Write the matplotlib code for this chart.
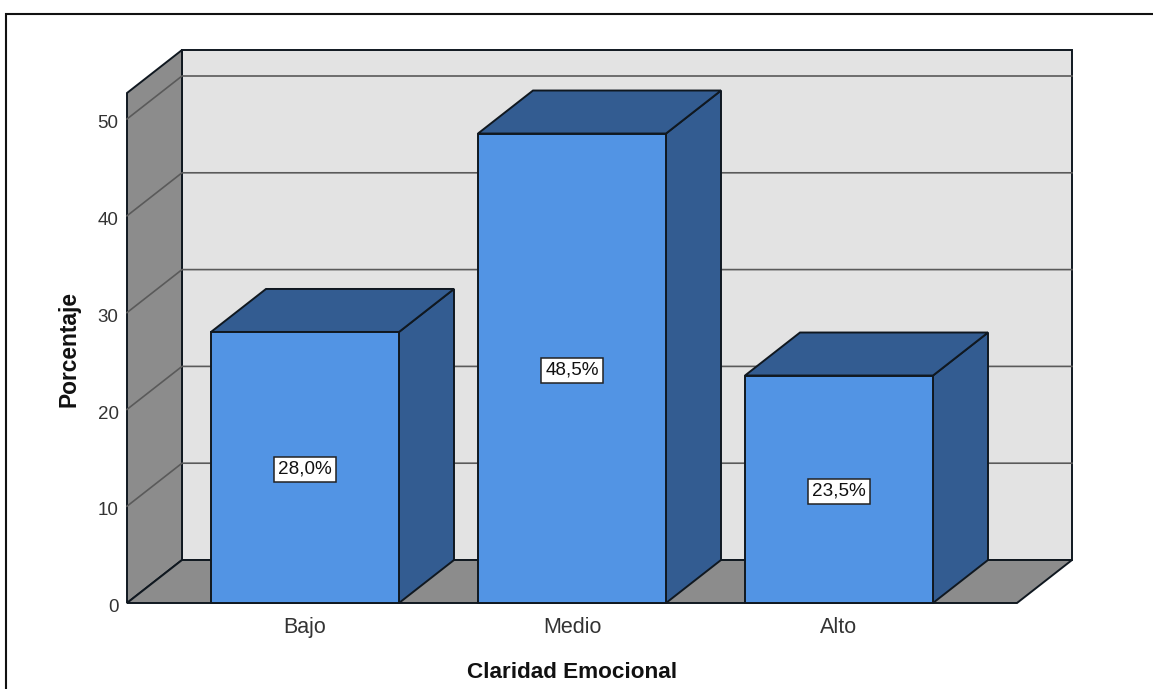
import matplotlib
matplotlib.use("Agg")
import matplotlib.pyplot as plt
from matplotlib.lines import Line2D
from matplotlib.patches import Polygon
from matplotlib.transforms import ScaledTranslation

categories = ["Bajo", "Medio", "Alto"]
percentages = [28.0, 48.5, 23.5]
value_labels = ["28,0%", "48,5%", "23,5%"]
y_ticks = [0, 10, 20, 30, 40, 50]

W, H = 1153, 689
FRONT = "#5294E4"
SIDE = "#335C91"
WALL = "#8C8C8C"
BACK = "#E3E3E3"
EDGE = "#101820"
GRID = "#5A5A5A"

plt.rcParams["font.family"] = ["Liberation Sans", "DejaVu Sans"]
fig = plt.figure(figsize=(W / 100, H / 100), dpi=100)

# Axes span from the front-left floor corner to the back-right top corner
left, right, bottom, top = 127, 1072, 603, 51
ax = fig.add_axes([left / W, 1 - bottom / H, (right - left) / W, (bottom - top) / H])

px_x = 267.0          # pixels per category
px_y = 9.68           # pixels per percentage point
x0 = -(305 - left) / px_x
ax.set_xlim(x0, x0 + (right - left) / px_x)
ax.set_ylim(0, (bottom - top) / px_y)
DX = 55 / px_x        # depth offset of the oblique projection
DY = 43 / px_y
BW = 188 / px_x       # bar width
ymax_front = (bottom - 93) / px_y
xl, xr = x0, x0 + (1017 - left) / px_x


def face(pts, fc, ec=EDGE, lw=1.4, z=1):
    ax.add_patch(Polygon(pts, closed=True, facecolor=fc, edgecolor=ec, linewidth=lw,
                         joinstyle="miter", clip_on=False, zorder=z))


# Back wall, side wall and floor
face([(xl + DX, DY), (xr + DX, DY), (xr + DX, DY + ymax_front), (xl + DX, DY + ymax_front)], BACK, z=1)
face([(xl, 0), (xl + DX, DY), (xl + DX, DY + ymax_front), (xl, ymax_front)], WALL, z=1)
face([(xl, 0), (xr, 0), (xr + DX, DY), (xl + DX, DY)], WALL, z=1)

# Gridlines wrap from the side wall onto the back wall
for t in y_ticks[1:]:
    ax.plot([xl, xl + DX, xr + DX], [t, t + DY, t + DY], color=GRID, lw=1.2,
            solid_joinstyle="miter", clip_on=False, zorder=2)

# Three-dimensional bars with a value box on each front face
for i, v in enumerate(percentages):
    a, b = i - BW / 2, i + BW / 2
    face([(b, 0), (b + DX, DY), (b + DX, v + DY), (b, v)], SIDE, z=3)
    face([(a, v), (b, v), (b + DX, v + DY), (a + DX, v + DY)], SIDE, z=3)
    face([(a, 0), (b, 0), (b, v), (a, v)], FRONT, z=4)
    ax.text(i, v / 2, value_labels[i], ha="center", va="center_baseline", fontsize=13.6, color="#111111", zorder=5,
            bbox=dict(boxstyle="square,pad=0.2", facecolor="white", edgecolor="#222222", linewidth=1.1))

# Axis ticks and titles
ax.set_xticks(range(len(categories)), categories)
ax.set_yticks(y_ticks)
ax.tick_params(length=0, labelcolor="#333333")
ax.tick_params(axis="x", pad=10, labelsize=15.5)
ax.tick_params(axis="y", pad=6, labelsize=13.5)
shift_down = ScaledTranslation(0, -2 / 72, fig.dpi_scale_trans)
for lab in ax.get_yticklabels():
    lab.set_transform(lab.get_transform() + shift_down)
for s in ax.spines.values():
    s.set_visible(False)
ax.patch.set_visible(False)

fig.text(572 / W, 1 - 673 / H, "Claridad Emocional", ha="center", va="center",
         fontsize=16.2, fontweight="bold", color="#111111")
fig.text(69 / W, 1 - 349 / H, "Porcentaje", ha="center", va="center", rotation=90,
         fontsize=16.4, fontweight="bold", color="#111111")

# Outer frame: top and left edges
fig.add_artist(Line2D([6 / W, 6 / W, 1], [0, 1 - 13.5 / H, 1 - 13.5 / H], color="#111111", lw=1.5,
                      solid_joinstyle="miter"))

fig.savefig("out.png", dpi=100)
